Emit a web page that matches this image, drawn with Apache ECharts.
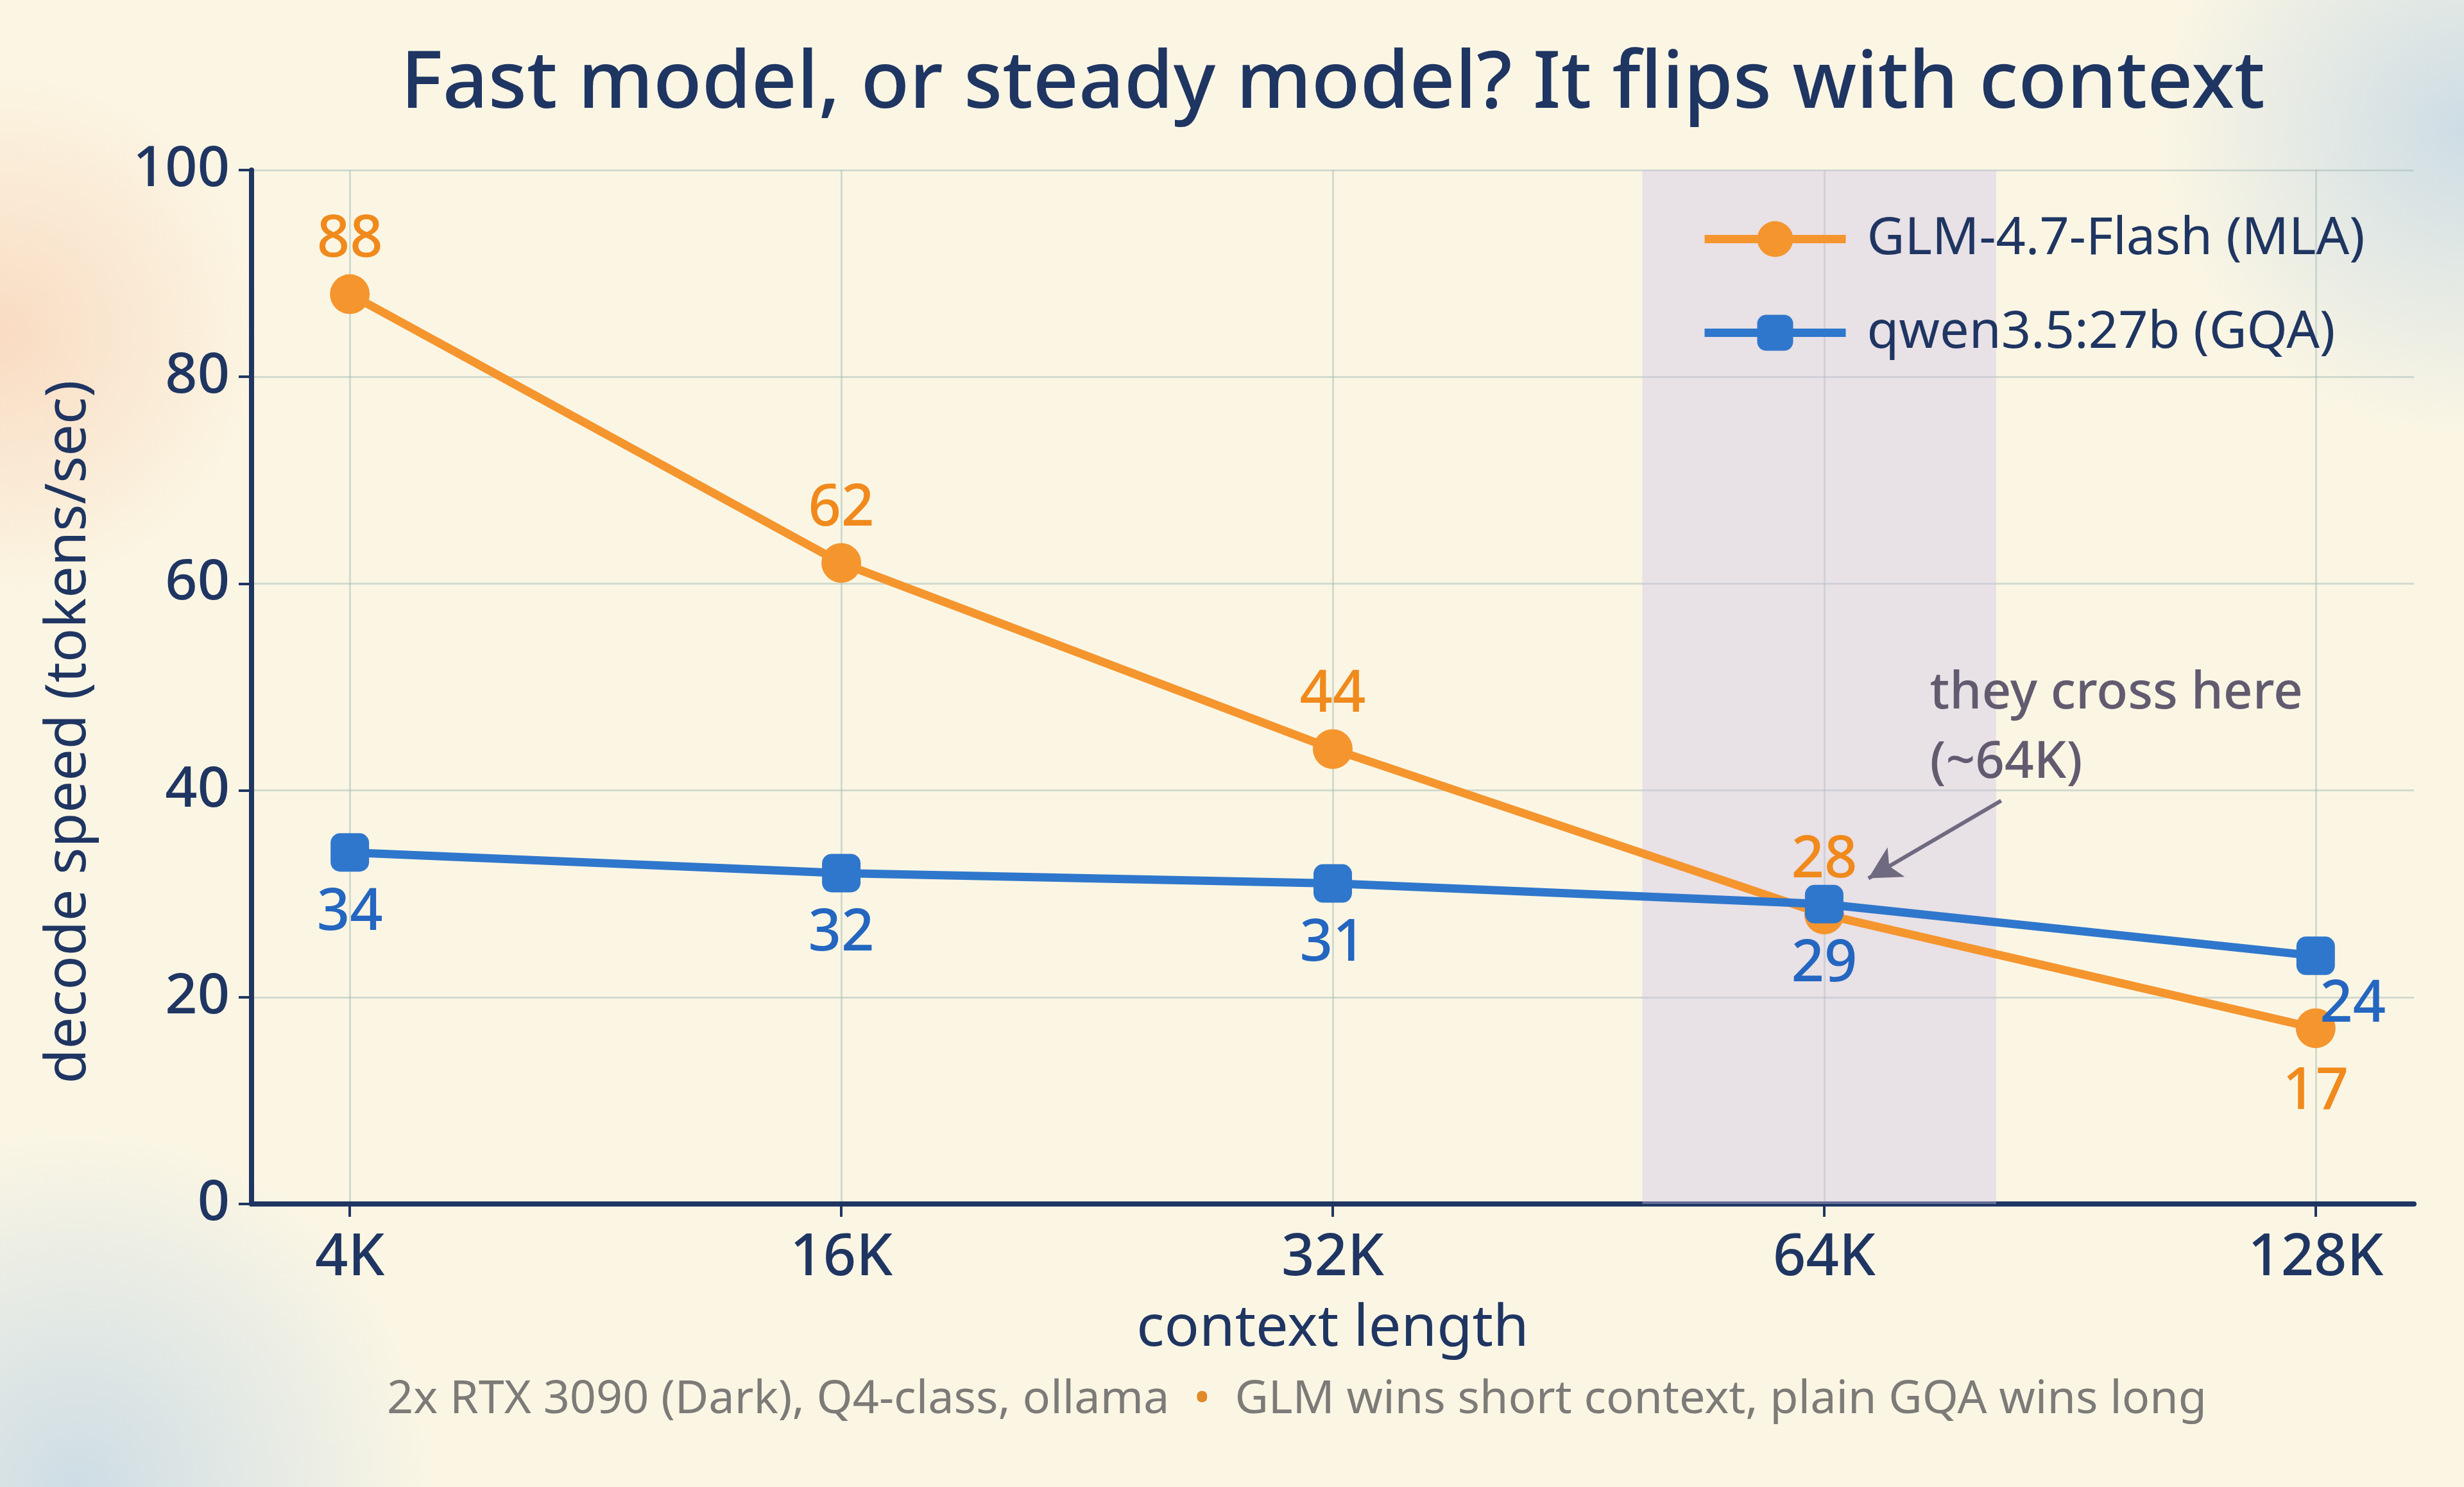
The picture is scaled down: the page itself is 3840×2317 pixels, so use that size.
<!DOCTYPE html>
<html>
<head>
<meta charset="utf-8">
<script src="https://cdn.jsdelivr.net/npm/echarts@6/dist/echarts.min.js"></script>
<style>
  html, body { margin: 0; padding: 0; background: #fbf6e4; }
  #chart { width: 3840px; height: 2317px; }
</style>
</head>
<body>
<div id="chart"></div>
<script>
// values
var categories = ['4K', '16K', '32K', '64K', '128K'];
var glmSpeed = [88, 62, 44, 28, 17];
var qwenSpeed = [34, 32, 31, 29, 24];
var yTicks = [0, 20, 40, 60, 80, 100];
var crossBand = [2.63, 3.35];          // shaded region around 64K (category units)
var crossArrow = [[3.36, 39], [3.09, 31.5]];

var navy = '#1f3562';
var orange = '#f5952e';
var blue = '#2f77cc';
var font = 'Noto Sans';

var catIdx = categories.map(function (c, i) { return i; });

function build(values, last) {
    return values.map(function (v, i) {
        var item = { value: [i, v] };
        if (i == values.length - 1 && last) { item.label = last; }
        return item;
    });
}

var chart = echarts.init(document.getElementById('chart'));

var option = {
    backgroundColor: '#fbf6e4',
    animation: false,
    title: [{
        text: 'Fast model, or steady model? It flips with context',
        left: 2072, top: 66, textAlign: 'center',
        textStyle: { fontFamily: font, fontSize: 124, fontWeight: 500, color: navy }
    }, {
        text: '{a|2x RTX 3090 (Dark), Q4-class, ollama}{dot|  •  }{a|GLM wins short context, plain GQA wins long}',
        left: 2016, top: 2140, textAlign: 'center',
        textStyle: {
            fontWeight: 'normal',
            rich: {
                a: { fontFamily: font, fontSize: 72, fontWeight: 'normal', color: '#7d7b78' },
                dot: { fontFamily: font, fontSize: 72, fontWeight: 'normal', color: '#e08a2a' }
            }
        }
    }],
    legend: {
        orient: 'vertical',
        left: 2645, top: 327,
        itemWidth: 220, itemHeight: 70, itemGap: 65,
        lineStyle: { width: 13 },
        textStyle: { fontFamily: font, fontSize: 81, color: navy, padding: [0, 0, 0, 28] },
        data: ['GLM-4.7-Flash (MLA)', 'qwen3.5:27b (GQA)']
    },
    grid: { left: 392, right: 78, top: 265, bottom: 441, containLabel: false },
    xAxis: {
        type: 'value', min: -0.2, max: 4.2,
        name: 'context length', nameLocation: 'middle', nameGap: 150,
        nameTextStyle: { fontFamily: font, fontSize: 90, color: navy },
        axisLine: { show: true, onZero: false, lineStyle: { color: navy, width: 8 } },
        axisTick: { show: true, customValues: catIdx, length: 20, lineStyle: { color: navy, width: 4 } },
        axisLabel: {
            customValues: catIdx, margin: 40,
            fontFamily: font, fontSize: 90, fontWeight: 500, color: navy,
            formatter: function (v) { return categories[Math.round(v)]; }
        },
        splitLine: { show: true, lineStyle: { color: 'rgba(160,185,180,0.45)', width: 3 } }
    },
    yAxis: {
        type: 'value', min: 0, max: 100, interval: 20,
        name: 'decode speed (tokens/sec)', nameLocation: 'middle', nameGap: 240,
        nameTextStyle: { fontFamily: font, fontSize: 88, color: navy, padding: [0, 140, 0, 0] },
        axisLine: { show: true, onZero: false, lineStyle: { color: navy, width: 8 } },
        axisTick: { show: true, length: 20, lineStyle: { color: navy, width: 4 } },
        axisLabel: {
            margin: 34, fontFamily: font, fontSize: 88, fontWeight: 500, color: navy,
            formatter: function (v) { return yTicks.indexOf(v) >= 0 ? '' + v : ''; }
        },
        splitLine: { show: true, lineStyle: { color: 'rgba(160,185,180,0.45)', width: 3 } }
    },
    series: [{
        name: 'GLM-4.7-Flash (MLA)',
        type: 'line', z: 3,
        data: build(glmSpeed, { position: 'bottom', distance: 24 }),
        symbol: 'circle', symbolSize: 62,
        lineStyle: { color: orange, width: 13 },
        itemStyle: { color: orange },
        label: {
            show: true, position: 'top', distance: 8,
            fontFamily: font, fontSize: 90, fontWeight: 500, color: '#f08a1c',
            formatter: function (p) { return p.value[1]; }
        },
        markArea: {
            silent: true,
            itemStyle: { color: 'rgba(205,195,232,0.4)' },
            data: [[{ xAxis: crossBand[0], yAxis: 0 }, { xAxis: crossBand[1], yAxis: 100 }]]
        }
    }, {
        name: 'qwen3.5:27b (GQA)',
        type: 'line', z: 4,
        data: build(qwenSpeed, { position: 'bottom', distance: 2, offset: [58, 0] }),
        symbol: 'roundRect', symbolSize: 60,
        lineStyle: { color: blue, width: 13 },
        itemStyle: { color: blue },
        label: {
            show: true, position: 'bottom', distance: 20,
            fontFamily: font, fontSize: 90, fontWeight: 500, color: '#2466c0',
            formatter: function (p) { return p.value[1]; }
        },
        markLine: {
            silent: true,
            symbol: ['none', 'arrow'], symbolSize: [40, 50],
            lineStyle: { color: '#6f6a80', width: 6, type: 'solid' },
            label: { show: false },
            data: [[{ coord: crossArrow[0] }, { coord: crossArrow[1] }]]
        },
        markPoint: {
            silent: true,
            symbol: 'circle', symbolSize: 0,
            label: {
                show: true, position: 'right', distance: 0,
                align: 'left', verticalAlign: 'middle',
                fontFamily: font, fontSize: 80, fontWeight: 500, lineHeight: 108, color: '#625b70',
                formatter: 'they cross here\n(~64K)'
            },
            data: [{ coord: [3.215, 46] }]
        }
    }],
    graphic: [{
        type: 'circle', z: -10, silent: true,
        shape: { cx: 0, cy: 520, r: 420 },
        style: { fill: { type: 'radial', x: 0.5, y: 0.5, r: 0.5,
            colorStops: [{ offset: 0, color: 'rgba(245,170,130,0.35)' }, { offset: 1, color: 'rgba(245,170,130,0)' }] } }
    }, {
        type: 'circle', z: -10, silent: true,
        shape: { cx: 3840, cy: 200, r: 480 },
        style: { fill: { type: 'radial', x: 0.5, y: 0.5, r: 0.5,
            colorStops: [{ offset: 0, color: 'rgba(150,190,230,0.45)' }, { offset: 1, color: 'rgba(150,190,230,0)' }] } }
    }, {
        type: 'circle', z: -10, silent: true,
        shape: { cx: 120, cy: 2317, r: 560 },
        style: { fill: { type: 'radial', x: 0.5, y: 0.5, r: 0.5,
            colorStops: [{ offset: 0, color: 'rgba(150,190,230,0.45)' }, { offset: 1, color: 'rgba(150,190,230,0)' }] } }
    }]
};

chart.setOption(option);
</script>
</body>
</html>
